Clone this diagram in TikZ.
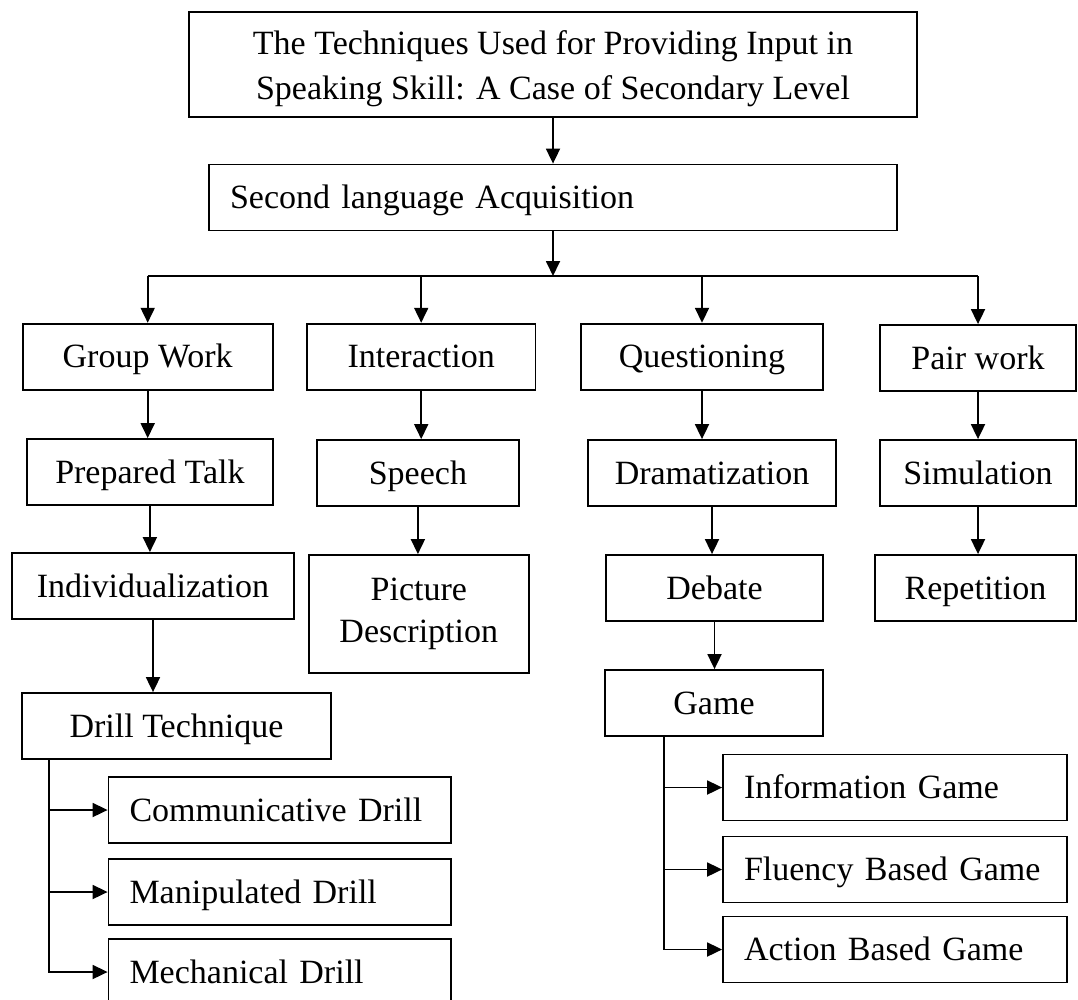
\documentclass[tikz,border=0pt]{standalone}
\usepackage{fontspec}
\setmainfont{Liberation Serif}
\usetikzlibrary{arrows.meta, positioning}

\begin{document}
\begin{tikzpicture}
        [x=1pt, y=-1pt,
         box/.style={draw, line width=1.8pt, inner sep=0pt, align=center, font=\fontsize{34}{45}\selectfont},
         onebox/.style={box, minimum width=#1, minimum height=66pt, text height=30pt, text depth=8pt},
         leftbox/.style={box, text width=#1, align=left, inner xsep=21pt, minimum height=66pt, text height=30pt, text depth=8pt},
         arr/.style={-{Triangle[length=15pt, width=14pt]}, line width=1.8pt}]
        \useasboundingbox (0,0) rectangle (1078,999);

        \node[box, minimum width=728pt, minimum height=105pt] (title) at (553,64.5) {\rule{0pt}{33pt}The Techniques Used for Providing Input in\\Speaking Skill: A Case of Secondary Level};
        \node[leftbox=646pt] (sla) at (553,197.5) {Second language Acquisition};
        \coordinate (bus) at (553,276);

        \node[onebox=250pt] (group) at (147.7,356.7) {Group Work};
        \node[onebox=228.5pt] (inter) at (421.2,356.7) {Interaction};
        \node[onebox=242pt] (quest) at (702,356.7) {Questioning};
        \node[onebox=196pt] (pair) at (978,358) {Pair work};

        \node[onebox=246pt] (prep) at (149.9,472) {Prepared Talk};
        \node[onebox=202pt] (speech) at (417.9,473) {Speech};
        \node[onebox=248pt] (drama) at (712,473) {Dramatization};
        \node[onebox=196pt] (simul) at (978,473) {Simulation};

        \node[onebox=282pt] (indiv) at (153,586) {Individualization};
        \node[box, minimum width=219.6pt, minimum height=118pt, font=\fontsize{34}{42}\selectfont] (picture) at (418.8,614) {Picture\\Description};
        \node[onebox=217pt] (debate) at (714.5,588) {Debate};
        \node[onebox=201pt] (repet) at (975.5,588) {Repetition};

        \node[onebox=309pt] (drill) at (176.5,726) {Drill Technique};
        \node[onebox=218pt] (game) at (714,703) {Game};

        \node[leftbox=300.5pt] (comm) at (279.75,810) {Communicative Drill};
        \node[leftbox=300.5pt] (manip) at (279.75,892) {Manipulated Drill};
        \node[leftbox=300.5pt] (mech) at (279.75,972) {Mechanical Drill};

        \node[leftbox=302pt] (info) at (895,787.5) {Information Game};
        \node[leftbox=302pt] (fluency) at (895,869.5) {Fluency Based Game};
        \node[leftbox=302pt] (action) at (895,949.5) {Action Based Game};

        \draw[arr] (title) -- (sla);
        \draw[arr] (sla) -- (bus);
        \draw[line width=1.8pt] (group.north |- bus) -- (pair.north |- bus);
        \foreach \n in {group, inter, quest, pair}
            \draw[arr] (\n.north |- bus) -- (\n.north);

        \foreach \a/\b in {group/prep, prep/indiv, indiv/drill, inter/speech, speech/picture,
                           quest/drama, drama/debate, debate/game, pair/simul, simul/repet}
            \draw[arr] (\a.south) -- (\a.south |- \b.north);

        \coordinate (dspine) at ([xshift=28pt]drill.south west);
        \foreach \n in {comm, manip, mech}
            \draw[arr] (dspine) |- (\n.west);
        \coordinate (gspine) at ([xshift=60pt]game.south west);
        \foreach \n in {info, fluency, action}
            \draw[arr] (gspine) |- (\n.west);
    \end{tikzpicture}
\end{document}
